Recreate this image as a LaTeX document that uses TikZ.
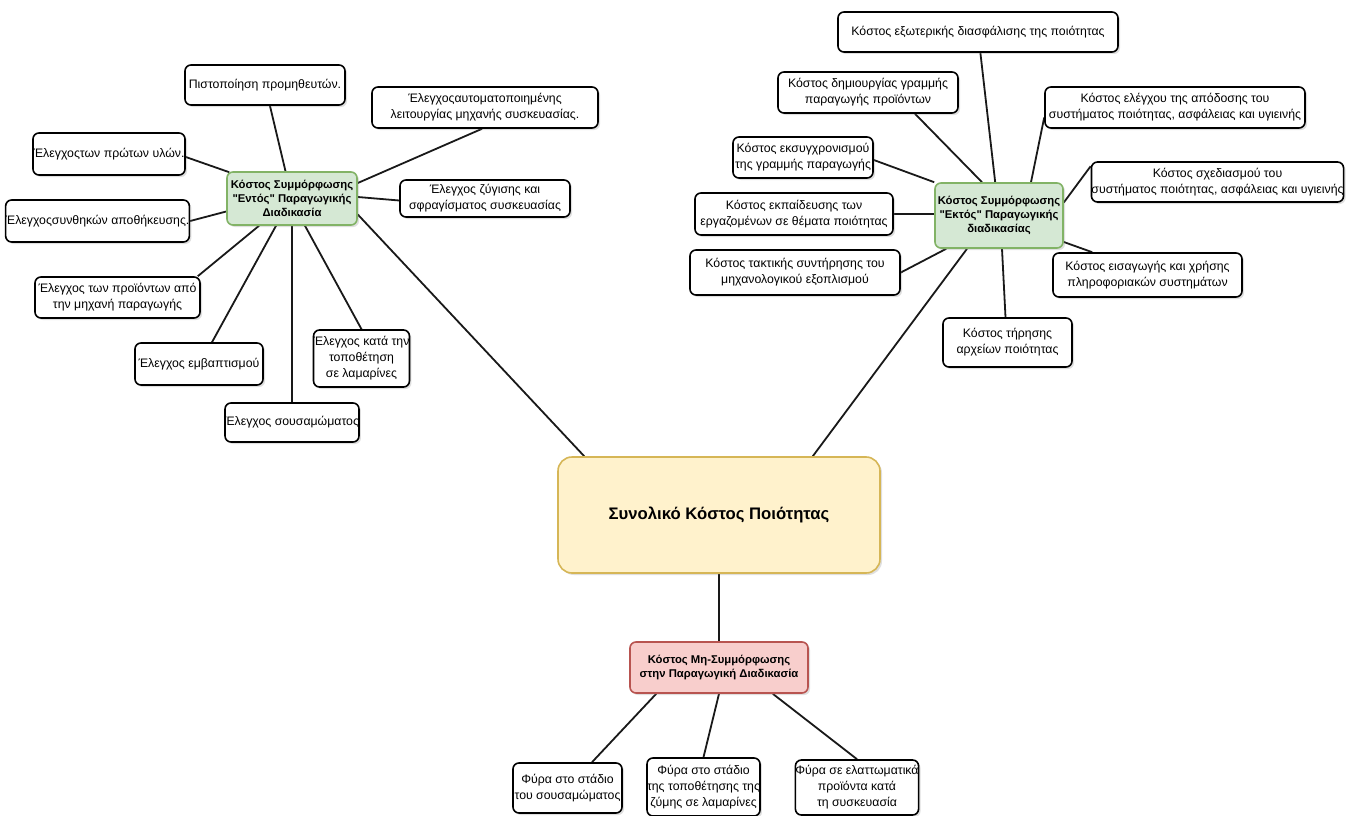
\documentclass[tikz,border=0pt]{standalone}
\usepackage{fontspec}
\setmainfont{Liberation Sans}
\usetikzlibrary{shadows,backgrounds,calc}

\definecolor{hubfill}{HTML}{D5E8D4}
\definecolor{hubdraw}{HTML}{82B366}
\definecolor{rootfill}{HTML}{FFF2CC}
\definecolor{rootdraw}{HTML}{D6B656}
\definecolor{lossfill}{HTML}{F8CECC}
\definecolor{lossdraw}{HTML}{B85450}

\newcommand\qq[1]{\textquotedbl#1\textquotedbl}

\tikzset{
  card/.style={rounded corners=6pt, align=center, inner sep=0pt, line width=1.6pt,
    drop shadow={shadow xshift=2pt, shadow yshift=-2pt, opacity=0.25}},
  leaf/.style={card, draw=black, fill=white, font=\fontsize{12.3}{16}\selectfont},
  hub/.style={card, draw=hubdraw, fill=hubfill, font=\fontsize{11.3}{14}\selectfont\bfseries},
  rootbox/.style={card, rounded corners=14pt, draw=rootdraw, fill=rootfill,
    font=\fontsize{16.7}{20}\selectfont\bfseries},
  loss/.style={card, draw=lossdraw, fill=lossfill, font=\fontsize{11.3}{14}\selectfont\bfseries},
  link/.style={line width=1.8pt, draw=black!90},
}

\begin{document}
\begin{tikzpicture}[x=1pt, y=-1pt]
\useasboundingbox (0,0) rectangle (1352,816);

% central node
\node[rootbox, minimum width=322pt, minimum height=116pt] (C) at (719,515) {Συνολικό Κόστος Ποιότητας};

% in-process conformance branch
\node[hub, minimum width=130pt, minimum height=53pt] (L) at (292,198.5)
  {Κόστος Συμμόρφωσης\\\qq{Εντός} Παραγωγικής\\Διαδικασία};
\node[leaf, minimum width=160pt, minimum height=40pt] (P) at (265,85) {Πιστοποίηση προμηθευτών.};
\node[leaf, minimum width=152pt, minimum height=42pt] (U) at (109,154) {Έλεγχοςτων πρώτων υλών.};
\node[leaf, minimum width=175pt, minimum height=42pt] (A) at (97.5,221) {Έλεγχοςσυνθηκών αποθήκευσης.};
\node[leaf, minimum width=226pt, minimum height=41pt] (M) at (485,107.5)
  {Έλεγχοςαυτοματοποιημένης\\λειτουργίας μηχανής συσκευασίας.};
\node[leaf, minimum width=170pt, minimum height=37pt] (Z) at (485,198.5)
  {Έλεγχος ζύγισης και\\σφραγίσματος συσκευασίας};
\node[leaf, minimum width=165pt, minimum height=41pt] (R) at (117.5,297.5)
  {Έλεγχος των προϊόντων από\\την μηχανή παραγωγής};
\node[leaf, minimum width=128pt, minimum height=42pt] (E) at (199,364) {Έλεγχος εμβαπτισμού};
\node[leaf, minimum width=129pt, minimum height=39pt] (S) at (292,422.5) {Έλεγχος σουσαμώματος};
\node[leaf, minimum width=83pt, minimum height=57pt] (K) at (361.5,358.5)
  {Έλεγχος κατά την\\τοποθέτηση\\σε λαμαρίνες};

% out-of-process conformance branch
\node[hub, minimum width=128pt, minimum height=65pt] (H) at (999,215.5)
  {Κόστος Συμμόρφωσης\\\qq{Εκτός} Παραγωγικής\\διαδικασίας};
\node[leaf, minimum width=280pt, minimum height=40pt] (X) at (978,32)
  {Κόστος εξωτερικής διασφάλισης της ποιότητας};
\node[leaf, minimum width=180pt, minimum height=41pt] (D) at (868,92.5)
  {Κόστος δημιουργίας γραμμής\\παραγωγής προϊόντων};
\node[leaf, minimum width=140pt, minimum height=41pt] (Y) at (803,157.5)
  {Κόστος εκσυγχρονισμού\\της γραμμής παραγωγής};
\node[leaf, minimum width=198pt, minimum height=42pt] (T) at (794,214)
  {Κόστος εκπαίδευσης των\\εργαζομένων σε θέματα ποιότητας};
\node[leaf, minimum width=210pt, minimum height=45pt] (N) at (795,272.5)
  {Κόστος τακτικής συντήρησης του\\μηχανολογικού εξοπλισμού};
\node[leaf, minimum width=129pt, minimum height=49pt] (Q) at (1007.5,342.5)
  {Κόστος τήρησης\\αρχείων ποιότητας};
\node[leaf, minimum width=260pt, minimum height=41pt] (V) at (1175,107.5)
  {Κόστος ελέγχου της απόδοσης του\\συστήματος ποιότητας, ασφάλειας και υγιεινής};
\node[leaf, minimum width=251pt, minimum height=40pt] (W) at (1217.5,182)
  {Κόστος σχεδιασμού του\\συστήματος ποιότητας, ασφάλειας και υγιεινής};
\node[leaf, minimum width=189pt, minimum height=44pt] (I) at (1147.5,275)
  {Κόστος εισαγωγής και χρήσης\\πληροφοριακών συστημάτων};

% non-conformance branch
\node[loss, minimum width=178pt, minimum height=51pt] (F) at (719,667.5)
  {Κόστος Μη-Συμμόρφωσης\\στην Παραγωγική Διαδικασία};
\node[leaf, minimum width=109pt, minimum height=50pt] (B1) at (567.5,788)
  {Φύρα στο στάδιο\\του σουσαμώματος};
\node[leaf, minimum width=109pt, minimum height=58pt] (B2) at (703.5,787)
  {Φύρα στο στάδιο\\της τοποθέτησης της\\ζύμης σε λαμαρίνες};
\node[leaf, minimum width=120pt, minimum height=55pt] (B3) at (857,787.5)
  {Φύρα σε ελαττωματικά\\προϊόντα κατά\\τη συσκευασία};

% white page, then the connectors, behind the boxes
\begin{scope}[on background layer]
  \fill[white] (0,0) rectangle (1352,816);

  \draw[link] (P) -- (L);
  \draw[link] ([yshift=-3pt]U.east) -- ([xshift=3pt,yshift=-1pt]L.north west);
  \draw[link] (A.east) -- ([yshift=-13pt]L.west);
  \draw[link] ([xshift=-3pt]M.south) -- ([yshift=15.5pt]L.east);
  \draw[link] ([yshift=-2pt]Z.west) -- ([yshift=1.5pt]L.east);
  \draw[link] ([xshift=-3pt]R.north east) -- ([xshift=-33pt]L.south);
  \draw[link] ([xshift=13pt]E.north) -- ([xshift=-16pt]L.south);
  \draw[link] (S.north) -- (S.north |- L.south);
  \draw[link] (K.north) -- ([xshift=13pt]L.south);
  \draw[link] ([yshift=-16pt]L.east) -- ([xshift=27pt]C.north west);

  \draw[link] (X) -- (H);
  \draw[link] ([xshift=47pt]D.south) -- ([xshift=-17pt]H.north);
  \draw[link] ([yshift=-2.5pt]Y.east) -- (H.north west);
  \draw[link] (T.east) -- (T.east -| H.west);
  \draw[link] (N.east) -- ([xshift=12pt]H.south west);
  \draw[link] ([xshift=-2pt]Q.north) -- ([xshift=3pt]H.south);
  \draw[link] ([yshift=-10pt]V.west) -- ([xshift=32pt]H.north);
  \draw[link] ([yshift=-5pt]W.north west) -- ([yshift=13pt]H.east);
  \draw[link] ([yshift=-26.5pt]H.east) -- ([xshift=40pt]I.north west);
  \draw[link] ([xshift=-32pt]H.south) -- ([xshift=-68pt]C.north east);

  \draw[link] (C) -- (F);
  \draw[link] ([xshift=24.5pt]B1.north) -- ([xshift=27pt]F.south west);
  \draw[link] (B2.north) -- (F.south);
  \draw[link] (B3.north) -- ([xshift=-36pt]F.south east);
\end{scope}
\end{tikzpicture}
\end{document}
